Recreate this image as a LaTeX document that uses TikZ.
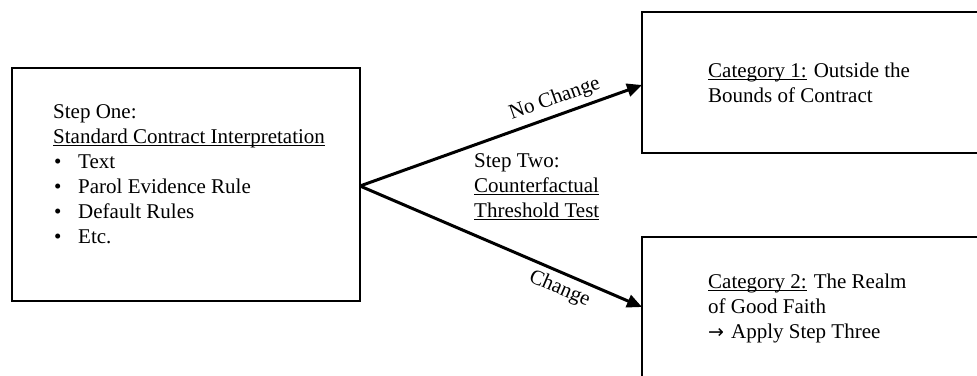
\documentclass[tikz,border=0pt]{standalone}
\usepackage{fontspec}
\setmainfont{Liberation Serif}
\newfontfamily\symfont{DejaVu Sans}
\usetikzlibrary{arrows.meta}
\newcommand\myul[1]{\setbox0\hbox{#1}\rlap{\rule[-3pt]{\wd0}{1.1pt}}#1}
\begin{document}
\begin{tikzpicture}[x=1pt,y=-1pt,
  box/.style={draw, line width=2pt, anchor=north west, inner sep=0pt, outer sep=0pt},
  txt/.style={font=\fontsize{21}{25}\selectfont, inner sep=0pt, anchor=base west},
  arr/.style={line width=3pt, -{Triangle[length=15pt,width=13pt]}},
  lbl/.style={font=\fontsize{21}{25}\selectfont, sloped, inner sep=0pt}]
\useasboundingbox (0,0) rectangle (977,375);
\clip (0,0) rectangle (977,375);
% boxes
\node[box, minimum width=348pt, minimum height=233pt] (one) at (12,68) {};
\node[box, minimum width=400pt, minimum height=141pt] (cat1) at (642,12) {};
\node[box, minimum width=400pt, minimum height=200pt] (cat2) at (642,237) {};
% step one text
\node[txt] (s1a) at (53,118) {Step One:};
\node[txt] (s1b) at (53,143) {\myul{Standard Contract Interpretation}};
\node[txt] (b1) at (54,168) {\textbullet};
\node[txt] (t1) at (78,168) {Text};
\node[txt] (b2) at (54,193) {\textbullet};
\node[txt] (t2) at (78,193) {Parol Evidence Rule};
\node[txt] (b3) at (54,218) {\textbullet};
\node[txt] (t3) at (78,218) {Default Rules};
\node[txt] (b4) at (54,243) {\textbullet};
\node[txt] (t4) at (78,243) {Etc.};
% step two text
\node[txt] (s2a) at (474,167) {Step Two:};
\node[txt] (s2b) at (474,192) {\myul{Counterfactual}};
\node[txt] (s2c) at (474,217) {\myul{Threshold Test}};
% categories
\node[txt] (c1a) at (708,77) {\myul{Category 1:} Outside the};
\node[txt] (c1b) at (708,102) {Bounds of Contract};
\node[txt] (c2a) at (708,288) {\myul{Category 2:} The Realm};
\node[txt] (c2b) at (708,313) {of Good Faith};
\node[txt] (c2c) at (708,338) {{\symfont\fontsize{19}{25}\selectfont →}\hspace{7pt}Apply Step Three};
% connectors
\coordinate (split) at (one.east |- 0,186);
\coordinate (in1) at (cat1.west |- 0,85);
\coordinate (in2) at (cat2.west |- 0,307);
\draw[arr] (split) -- (in1) node[lbl, pos=0.71, above=5pt] {No Change};
\draw[arr] (split) -- (in2) node[lbl, pos=0.73, below=5pt] {Change};
\end{tikzpicture}
\end{document}
